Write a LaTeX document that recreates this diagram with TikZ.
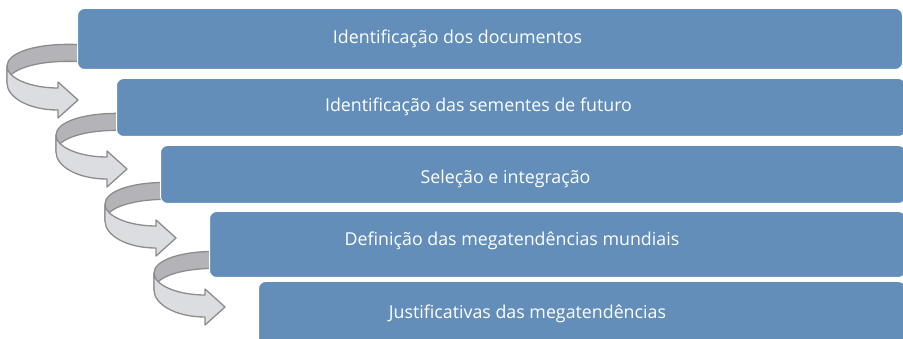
\documentclass[tikz,border=0pt]{standalone}
\usepackage{fontspec}
\setmainfont{Open Sans}
\definecolor{boxblue}{RGB}{98,142,185}
\definecolor{ribbonline}{RGB}{140,140,142}
\definecolor{ribbonback}{RGB}{180,180,184}
\definecolor{ribbonfront}{RGB}{220,221,224}
\begin{document}
\begin{tikzpicture}[x=1pt,y=-1pt,
 stepbox/.style={fill=boxblue, draw=white, line width=1pt, rounded corners=7pt, anchor=north west, inner sep=0pt},
 steptext/.style={text=white, font=\fontsize{17.8}{20}\selectfont, anchor=base, inner sep=0pt},
 ribbon/.style={draw=ribbonline, line width=1.3pt, line join=round},
 uturn/.pic={
   \path[ribbon, fill=ribbonback] (95,44) -- (77,44.5) .. controls (35,43) and (7,53) .. (7,66) -- (7,83) .. controls (7,70) and (35,60) .. (77,61.5) -- (95,61) -- cycle;
   \path[ribbon, fill=ribbonfront] (7,66) .. controls (7,78) and (30,88) .. (58,88) -- (58,82) -- (78,100) -- (58,118) -- (58,110) .. controls (28,110) and (7,97) .. (7,83) -- cycle;
 }]
\clip (0,0) rectangle (903,339);
\pic (a1) at (0,0) {uturn};
\pic (a2) at (49,69) {uturn};
\pic (a3) at (98,138) {uturn};
\pic (a4) at (147,207) {uturn};
\node[stepbox, minimum width=825pt, minimum height=61pt] (b1) at (77,8) {};
\node[stepbox, minimum width=789pt, minimum height=58pt] (b2) at (116,78) {};
\node[stepbox, minimum width=745pt, minimum height=58pt] (b3) at (160,145) {};
\node[stepbox, minimum width=696pt, minimum height=66pt] (b4) at (209,211) {};
\node[stepbox, minimum width=647pt, minimum height=70pt] (b5) at (258,281) {};
\node[steptext] (t1) at (457.5,44) {Identificação dos documentos};
\node[steptext] (t2) at (478.5,112) {Identificação das sementes de futuro};
\node[steptext] (t3) at (505.5,184) {Seleção e integração};
\node[steptext] (t4) at (512,246) {Definição das megatendências mundiais};
\node[steptext] (t5) at (527.5,319) {Justificativas das megatendências};
\end{tikzpicture}
\end{document}
